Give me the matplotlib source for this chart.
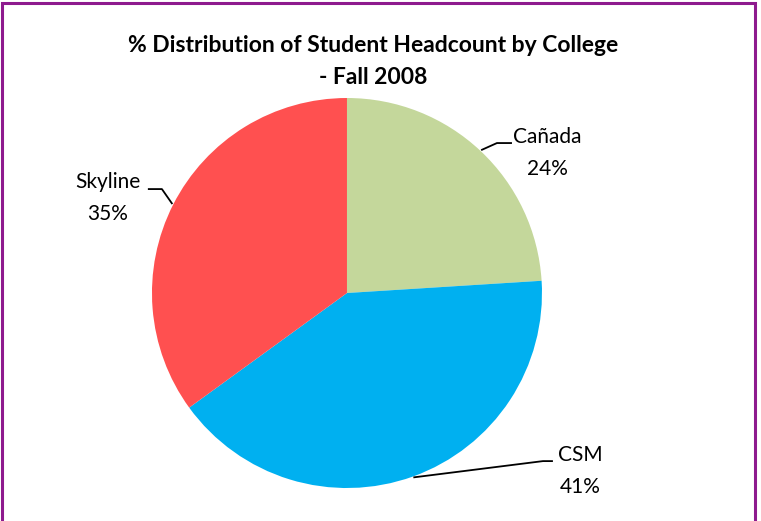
import numpy as np
import matplotlib
matplotlib.use("Agg")
import matplotlib.pyplot as plt
from matplotlib.patches import Rectangle

colleges = ["Cañada", "CSM", "Skyline"]
shares = [24, 41, 35]
colors = ["#C4D79B", "#00B0F0", "#FF5050"]

plt.rcParams["font.family"] = ["Lato", "DejaVu Sans"]

fig = plt.figure(figsize=(7.61, 5.21), dpi=100)
fig.patch.set_facecolor("white")

# purple frame round the chart area (bottom edge cut off in the original)
fig.add_artist(Rectangle((0.002, -0.05), 0.99, 1.045, transform=fig.transFigure,
                         fill=False, edgecolor="#8E1A8E", lw=2.2))

ax = fig.add_axes([0.1997, 0.0633, 0.5125, 0.7486])
wedges, _ = ax.pie(shares, colors=colors, startangle=90, counterclock=False,
                   radius=1.0, wedgeprops=dict(linewidth=0))
ax.set_xlim(-1.0, 1.0)
ax.set_ylim(-1.0, 1.0)
ax.set_aspect("equal")
ax.axis("off")

# label position, leader elbow and tail relative to wedge midpoint
label_cfg = {
    "Cañada": dict(text=(1.026, 0.718), elbow=(0.769, 0.769), tail=(0.846, 0.769)),
    "Skyline": dict(text=(-1.226, 0.487), elbow=(-0.949, 0.533), tail=(-1.021, 0.533)),
    "CSM": dict(text=(1.195, -0.913), elbow=(1.005, -0.862), tail=(1.056, -0.862)),
}

for w, name, val in zip(wedges, colleges, shares):
    mid = np.deg2rad((w.theta1 + w.theta2) / 2)
    start = (1.005 * np.cos(mid), 1.005 * np.sin(mid))
    cfg = label_cfg[name]
    xs = [start[0], cfg["elbow"][0], cfg["tail"][0]]
    ys = [start[1], cfg["elbow"][1], cfg["tail"][1]]
    ax.plot(xs, ys, color="black", lw=1.3, clip_on=False, solid_capstyle="butt")
    ax.text(cfg["text"][0], cfg["text"][1], f"{name}\n{val}%", ha="center", va="center",
            fontsize=15, linespacing=1.75, clip_on=False)

fig.text(0.49, 0.912, "% Distribution of Student Headcount by College", ha="center",
         va="center", fontsize=16.5, fontweight="bold")
fig.text(0.49, 0.852, "- Fall 2008", ha="center", va="center", fontsize=16.5,
         fontweight="bold")

fig.savefig("out.png", dpi=100)
